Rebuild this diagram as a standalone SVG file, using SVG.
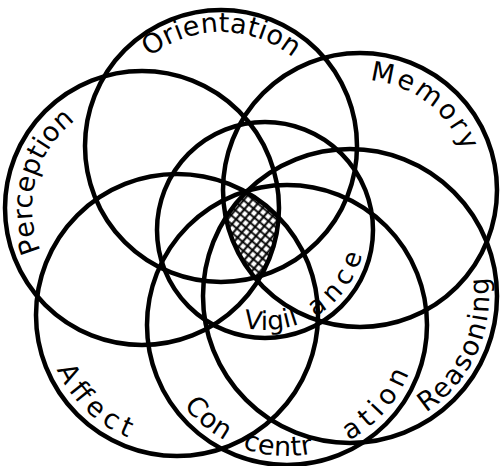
<svg xmlns="http://www.w3.org/2000/svg" width="500" height="466" viewBox="0 0 500 466">
<style>
.c{fill:none;stroke:#000;stroke-width:4.5}
.t{font-family:"DejaVu Sans","Liberation Sans",sans-serif;font-size:27px;fill:#000}
</style>
<defs>
<pattern id="hatch" width="6.5" height="6.5" patternUnits="userSpaceOnUse" patternTransform="rotate(40)">
<rect width="6.5" height="6.5" fill="#fff"/>
<path d="M0 3.25H6.5M3.25 0V6.5" stroke="#000" stroke-width="2"/>
</pattern>
<clipPath id="kO"><circle cx="221" cy="146" r="136"/></clipPath>
<clipPath id="kM"><circle cx="360" cy="190" r="137"/></clipPath>
<clipPath id="kP"><circle cx="142" cy="208" r="137"/></clipPath>
<clipPath id="kA"><circle cx="177" cy="315" r="141"/></clipPath>
<clipPath id="kC"><circle cx="287" cy="325" r="140"/></clipPath>
<clipPath id="kR"><circle cx="350" cy="296" r="147"/></clipPath>
<clipPath id="kV"><circle cx="265" cy="230" r="108"/></clipPath>
<path id="pO" d="M221 260A114 114 0 1 1 221 32A114 114 0 1 1 221 260"/>
<path id="pM" d="M360 300A110 110 0 1 1 360 80A110 110 0 1 1 360 300"/>
<path id="pP" d="M142 318A110 110 0 1 1 142 98A110 110 0 1 1 142 318"/>
<path id="pA" d="M45 315A132 132 0 1 0 309 315A132 132 0 1 0 45 315"/>
<path id="pC" d="M156 325A131 131 0 1 0 418 325A131 131 0 1 0 156 325"/>
<path id="pR" d="M211 296A139 139 0 1 0 489 296A139 139 0 1 0 211 296"/>
<path id="pV" d="M165 230A100 100 0 1 0 365 230A100 100 0 1 0 165 230"/>
</defs>
<rect width="500" height="466" fill="#fff"/>
<g id="hatched-core" clip-path="url(#kO)"><g clip-path="url(#kM)"><g clip-path="url(#kP)"><g clip-path="url(#kA)"><g clip-path="url(#kC)"><g clip-path="url(#kR)"><g clip-path="url(#kV)">
<rect x="200" y="170" width="110" height="130" fill="url(#hatch)"/>
</g></g></g></g></g></g></g>
<g id="orientation"><circle class="c" cx="221" cy="146" r="136"/>
<text class="t"><textPath href="#pO" startOffset="280.5" textLength="155">Orientation</textPath></text></g>
<g id="memory"><circle class="c" cx="360" cy="190" r="137"/>
<text class="t"><textPath href="#pM" startOffset="355" textLength="123">Memory</textPath></text></g>
<g id="perception"><circle class="c" cx="142" cy="208" r="137"/>
<text class="t"><textPath href="#pP" startOffset="128.6" textLength="145">Perception</textPath></text></g>
<g id="affect"><circle class="c" cx="177" cy="315" r="141"/>
<text class="t"><textPath href="#pA" startOffset="56" textLength="101">Affect</textPath></text></g>
<g id="concentration"><circle class="c" cx="287" cy="325" r="140"/>
<text class="t"><textPath href="#pC" startOffset="87" textLength="54">Con</textPath></text>
<text class="t"><textPath href="#pC" startOffset="160" textLength="72">centr</textPath></text>
<text class="t"><textPath href="#pC" startOffset="270" textLength="92">ation</textPath></text></g>
<g id="reasoning"><circle class="c" cx="350" cy="296" r="147"/>
<text class="t"><textPath href="#pR" startOffset="298.6" textLength="157">Reasoning</textPath></text></g>
<g id="vigilance"><circle class="c" cx="265" cy="230" r="108"/>
<text class="t" style="font-size:26px"><textPath href="#pV" startOffset="135" textLength="57">Vigil</textPath></text>
<text class="t" style="font-size:26px"><textPath href="#pV" startOffset="209" textLength="80">ance</textPath></text></g>
<g id="connectors"/>
</svg>
